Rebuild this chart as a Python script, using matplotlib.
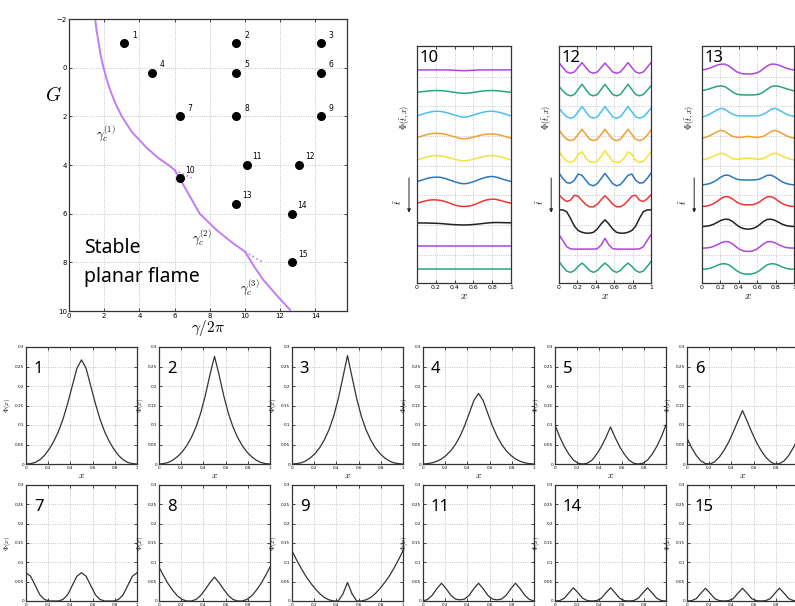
import numpy as np
import matplotlib
matplotlib.use('Agg')
import matplotlib.pyplot as plt

plt.rcParams['mathtext.fontset'] = 'cm'
plt.rcParams['font.family'] = ['DejaVu Sans']

W, H = 795, 606
VIOLET = '#c27cf5'
LABEL_FONT = 'Noto Sans'

# ---- phase diagram (gamma/2pi vs G) ----
boundary_x = [1.45, 1.49, 1.57, 1.68, 1.80, 1.96, 2.15, 2.38, 2.66, 3.00, 3.57, 4.42, 5.09,
              5.65, 6.00, 6.29, 6.80, 7.43, 8.38, 9.33, 10.00, 10.50, 11.05, 11.80, 12.57]
boundary_G = [-2.15, -2.0, -1.5, -1.05, -0.5, 0.0, 0.5, 1.0, 1.5, 2.0, 2.64, 3.3, 3.72,
              4.0, 4.2, 4.55, 5.2, 6.0, 6.67, 7.22, 7.56, 8.15, 8.73, 9.35, 9.96]
branch1_x = [6.00, 6.97]
branch1_G = [4.20, 4.53]
branch2_x = [10.00, 10.95]
branch2_G = [7.56, 7.97]

pt_labels = ['1', '2', '3', '4', '5', '6', '7', '8', '9', '10', '11', '12', '13', '14', '15']
pt_x = [3.15, 9.5, 14.3, 4.7, 9.5, 14.3, 6.3, 9.5, 14.3, 6.29, 10.1, 13.1, 9.5, 12.65, 12.7]
pt_G = [-1.0, -1.0, -1.0, 0.2, 0.2, 0.2, 2.0, 2.0, 2.0, 4.55, 4.0, 4.0, 5.6, 6.0, 8.0]

# ---- sample positions for all profiles ----
x_grid = np.arange(25) / 24

# ---- steady profiles Phi(x) for points 1-9, 11, 14, 15 ----
phi_1 = [0, 0.001, 0.004, 0.011, 0.022, 0.038, 0.058, 0.083, 0.115, 0.155, 0.200, 0.245, 0.267,
         0.245, 0.200, 0.155, 0.115, 0.083, 0.058, 0.038, 0.022, 0.011, 0.004, 0.001, 0]
phi_2 = [0, 0.001, 0.004, 0.010, 0.019, 0.031, 0.047, 0.068, 0.095, 0.130, 0.175, 0.228, 0.276,
         0.228, 0.175, 0.130, 0.095, 0.068, 0.047, 0.031, 0.019, 0.010, 0.004, 0.001, 0]
phi_3 = [0, 0.001, 0.003, 0.008, 0.016, 0.027, 0.042, 0.062, 0.088, 0.122, 0.167, 0.222, 0.278,
         0.222, 0.167, 0.122, 0.088, 0.062, 0.042, 0.027, 0.016, 0.008, 0.003, 0.001, 0]
phi_4 = [0, 0.001, 0.003, 0.007, 0.013, 0.022, 0.034, 0.050, 0.071, 0.098, 0.130, 0.163, 0.181,
         0.163, 0.130, 0.098, 0.071, 0.050, 0.034, 0.022, 0.013, 0.007, 0.003, 0.001, 0]
phi_5 = [0.100, 0.070, 0.045, 0.025, 0.010, 0.002, 0.0, 0.002, 0.010, 0.025, 0.044, 0.068, 0.095,
         0.068, 0.044, 0.025, 0.010, 0.002, 0.0, 0.002, 0.010, 0.025, 0.045, 0.070, 0.100]
phi_6 = [0.066, 0.042, 0.022, 0.008, 0.001, 0.0, 0.006, 0.018, 0.035, 0.056, 0.082, 0.110, 0.137,
         0.110, 0.082, 0.056, 0.035, 0.018, 0.006, 0.0, 0.001, 0.008, 0.022, 0.042, 0.066]
phi_7 = [0.073, 0.064, 0.040, 0.016, 0.004, 0.0, 0.0, 0.0, 0.004, 0.016, 0.040, 0.064, 0.073,
         0.064, 0.040, 0.016, 0.004, 0.0, 0.0, 0.0, 0.004, 0.016, 0.040, 0.064, 0.073]
phi_8 = [0.088, 0.065, 0.044, 0.027, 0.013, 0.004, 0.0, 0.0, 0.004, 0.014, 0.030, 0.047, 0.062,
         0.047, 0.030, 0.014, 0.004, 0.0, 0.0, 0.004, 0.013, 0.027, 0.044, 0.065, 0.088]
phi_9 = [0.130, 0.106, 0.084, 0.064, 0.047, 0.032, 0.019, 0.009, 0.003, 0.0, 0.0, 0.018, 0.048,
         0.018, 0.0, 0.0, 0.003, 0.009, 0.019, 0.032, 0.047, 0.064, 0.084, 0.106, 0.130]
phi_11 = [0.0, 0.004, 0.015, 0.032, 0.046, 0.032, 0.015, 0.005, 0.003, 0.005, 0.015, 0.032, 0.046,
          0.032, 0.015, 0.005, 0.003, 0.005, 0.015, 0.032, 0.046, 0.032, 0.015, 0.004, 0.0]
phi_14 = [0.0, 0.001, 0.007, 0.021, 0.034, 0.021, 0.007, 0.001, 0.0, 0.001, 0.007, 0.021, 0.034,
          0.021, 0.007, 0.001, 0.0, 0.001, 0.007, 0.021, 0.034, 0.021, 0.007, 0.001, 0.0]
phi_15 = [0.0, 0.001, 0.006, 0.020, 0.033, 0.020, 0.006, 0.001, 0.0, 0.001, 0.006, 0.020, 0.033,
          0.020, 0.006, 0.001, 0.0, 0.001, 0.006, 0.020, 0.033, 0.020, 0.006, 0.001, 0.0]

# ---- time series Phi(t, x) for points 10, 12, 13 (deviation, in units of curve spacing) ----
series_10 = [
    [0, 0, 0, 0, 0, 0, 0, 0, 0, -0.01, -0.02, -0.03, -0.035, -0.03, -0.02, -0.01, 0, 0, 0, 0, 0, 0, 0, 0, 0],
    [-0.01, 0.01, 0.03, 0.05, 0.065, 0.07, 0.065, 0.05, 0.03, 0.0, -0.025, -0.045, -0.05,
     -0.045, -0.025, 0.0, 0.03, 0.05, 0.065, 0.07, 0.065, 0.05, 0.03, 0.01, -0.01],
    [-0.075, -0.02, 0.035, 0.085, 0.12, 0.135, 0.125, 0.095, 0.05, -0.005, -0.06, -0.11, -0.135,
     -0.11, -0.06, -0.005, 0.05, 0.095, 0.125, 0.135, 0.12, 0.085, 0.035, -0.02, -0.075],
    [-0.05, 0.0, 0.05, 0.10, 0.13, 0.14, 0.13, 0.10, 0.055, 0.005, -0.045, -0.09, -0.11,
     -0.09, -0.05, -0.005, 0.04, 0.08, 0.10, 0.11, 0.10, 0.07, 0.02, -0.03, -0.08],
    [-0.06, -0.01, 0.04, 0.09, 0.12, 0.135, 0.125, 0.095, 0.05, 0.0, -0.05, -0.09, -0.105,
     -0.09, -0.05, 0.0, 0.05, 0.095, 0.125, 0.135, 0.12, 0.09, 0.04, -0.01, -0.06],
    [-0.04, 0.01, 0.07, 0.12, 0.15, 0.16, 0.15, 0.11, 0.05, -0.01, -0.07, -0.12, -0.14,
     -0.12, -0.07, -0.01, 0.06, 0.12, 0.17, 0.19, 0.17, 0.12, 0.06, 0.01, -0.04],
    [-0.015, 0.03, 0.08, 0.12, 0.135, 0.13, 0.11, 0.07, 0.01, -0.06, -0.12, -0.155, -0.165,
     -0.155, -0.12, -0.06, 0.02, 0.09, 0.14, 0.165, 0.16, 0.12, 0.07, 0.02, -0.015],
    [0.09, 0.09, 0.09, 0.085, 0.08, 0.075, 0.065, 0.05, 0.035, 0.02, 0.01, 0.003, 0.0,
     0.003, 0.015, 0.03, 0.05, 0.07, 0.09, 0.105, 0.11, 0.11, 0.105, 0.1, 0.1],
    [0.03, 0.03, 0.03, 0.03, 0.03, 0.03, 0.03, 0.03, 0.03, 0.03, 0.03, 0.03, 0.03,
     0.03, 0.03, 0.03, 0.03, 0.03, 0.03, 0.03, 0.03, 0.03, 0.03, 0.03, 0.03],
    [0.0, 0.0, 0.0, 0.0, 0.0, 0.0, 0.0, 0.0, 0.0, 0.0, 0.0, 0.0, 0.0,
     0.0, 0.0, 0.0, 0.0, 0.0, 0.0, 0.0, 0.0, 0.0, 0.0, 0.0, 0.0],
]
series_12 = [
    [0.33, 0.11, -0.09, -0.15, -0.09, 0.11, 0.33, 0.11, -0.09, -0.15, -0.09, 0.11, 0.31,
     0.11, -0.09, -0.15, -0.09, 0.11, 0.33, 0.11, -0.09, -0.15, -0.09, 0.11, 0.33],
    [0.25, 0.06, -0.11, -0.17, -0.11, 0.12, 0.35, 0.12, -0.11, -0.17, -0.11, 0.12, 0.35,
     0.12, -0.11, -0.17, -0.11, 0.12, 0.35, 0.12, -0.11, -0.17, -0.11, 0.08, 0.28],
    [0.27, 0.06, -0.12, -0.18, -0.12, 0.11, 0.35, 0.11, -0.12, -0.18, -0.12, 0.11, 0.35,
     0.11, -0.12, -0.18, -0.12, 0.11, 0.35, 0.11, -0.12, -0.18, -0.12, 0.06, 0.27],
    [0.29, 0.05, -0.13, -0.19, -0.13, 0.09, 0.32, 0.09, -0.13, -0.19, -0.13, 0.09, 0.32,
     0.09, -0.13, -0.19, -0.13, 0.09, 0.32, 0.09, -0.13, -0.19, -0.13, 0.05, 0.29],
    [0.30, 0.08, -0.12, -0.18, -0.10, 0.20, 0.30, 0.02, -0.15, -0.18, -0.12, 0.11, 0.35,
     0.11, -0.12, -0.18, -0.15, 0.02, 0.30, 0.20, -0.10, -0.18, -0.12, 0.08, 0.30],
    [0.34, 0.10, -0.09, -0.11, 0.02, 0.30, 0.24, 0.02, -0.18, -0.23, -0.13, 0.10, 0.33,
     0.10, -0.13, -0.23, -0.18, 0.02, 0.24, 0.30, 0.02, -0.11, -0.09, 0.10, 0.34],
    [0.36, 0.18, 0.06, 0.12, 0.34, 0.30, 0.10, -0.08, -0.18, -0.18, -0.06, 0.14, 0.32,
     0.14, -0.06, -0.18, -0.18, -0.08, 0.10, 0.30, 0.34, 0.12, 0.06, 0.18, 0.36],
    [0.68, 0.68, 0.60, 0.30, -0.05, -0.25, -0.33, -0.37, -0.37, -0.33, -0.18, 0.05, 0.23,
     0.05, -0.18, -0.33, -0.37, -0.37, -0.33, -0.25, -0.05, 0.30, 0.60, 0.68, 0.68],
    [0.56, 0.30, 0.02, -0.08, -0.09, -0.09, -0.09, -0.09, -0.09, -0.09, -0.07, 0.10, 0.40,
     0.10, -0.07, -0.09, -0.09, -0.09, -0.09, -0.09, -0.09, -0.08, 0.02, 0.30, 0.56],
    [0.35, 0.12, -0.08, -0.14, -0.06, 0.13, 0.28, 0.13, -0.06, -0.14, -0.06, 0.13, 0.28,
     0.13, -0.06, -0.14, -0.06, 0.13, 0.28, 0.13, -0.06, -0.14, -0.08, 0.12, 0.35],
]
series_13 = [
    [0.0, 0.03, 0.08, 0.15, 0.22, 0.26, 0.26, 0.18, 0.05, -0.08, -0.15, -0.18, -0.18,
     -0.18, -0.15, -0.08, 0.05, 0.18, 0.26, 0.26, 0.22, 0.15, 0.08, 0.03, 0.0],
    [0.07, 0.10, 0.15, 0.21, 0.26, 0.28, 0.24, 0.13, 0.0, -0.09, -0.12, -0.13, -0.13,
     -0.13, -0.12, -0.09, 0.0, 0.13, 0.24, 0.28, 0.26, 0.21, 0.15, 0.10, 0.05],
    [-0.13, -0.08, 0.0, 0.10, 0.20, 0.27, 0.22, 0.10, 0.0, -0.06, -0.075, -0.075, -0.075,
     -0.075, -0.075, -0.06, 0.0, 0.10, 0.22, 0.27, 0.20, 0.10, 0.0, -0.06, -0.10],
    [-0.08, -0.04, 0.03, 0.12, 0.22, 0.27, 0.22, 0.10, 0.0, -0.04, -0.05, -0.02, 0.0,
     -0.02, -0.05, -0.04, 0.0, 0.10, 0.22, 0.27, 0.22, 0.12, 0.03, -0.04, -0.08],
    [-0.06, -0.03, 0.03, 0.11, 0.19, 0.24, 0.20, 0.09, 0.0, -0.03, -0.02, 0.01, 0.015,
     0.01, -0.02, -0.03, 0.0, 0.09, 0.20, 0.24, 0.19, 0.11, 0.03, -0.03, -0.06],
    [-0.19, -0.17, -0.13, -0.06, 0.05, 0.17, 0.25, 0.24, 0.15, 0.07, 0.04, 0.03, 0.03,
     0.03, 0.04, 0.07, 0.15, 0.24, 0.25, 0.17, 0.05, -0.06, -0.13, -0.17, -0.19],
    [-0.165, -0.15, -0.11, -0.04, 0.07, 0.20, 0.28, 0.27, 0.17, 0.04, -0.05, -0.09, -0.09,
     -0.09, -0.05, 0.04, 0.17, 0.27, 0.28, 0.20, 0.07, -0.04, -0.11, -0.15, -0.165],
    [-0.07, -0.06, -0.03, 0.03, 0.12, 0.21, 0.26, 0.25, 0.15, 0.01, -0.11, -0.17, -0.19,
     -0.17, -0.11, 0.01, 0.15, 0.25, 0.26, 0.21, 0.12, 0.03, -0.03, -0.06, -0.07],
    [-0.045, -0.04, -0.02, 0.03, 0.11, 0.20, 0.25, 0.24, 0.14, 0.0, -0.12, -0.18, -0.195,
     -0.18, -0.12, 0.0, 0.14, 0.24, 0.25, 0.20, 0.11, 0.03, -0.02, -0.04, -0.045],
    [0.0, 0.01, 0.04, 0.10, 0.18, 0.24, 0.25, 0.20, 0.08, -0.06, -0.16, -0.21, -0.22,
     -0.21, -0.16, -0.06, 0.08, 0.20, 0.25, 0.24, 0.18, 0.10, 0.04, 0.01, 0.0],
]
STACK_COLORS = ['#b045e0', '#2aa57a', '#4cbff0', '#f0a030', '#f2e23c',
                '#2a78c0', '#f03535', '#222222', '#b045e0', '#2aa57a']
STACK_GRID = [1.28, 2.62, 3.96, 5.30, 6.64, 7.98, 9.32]


def px_axes(fig, left, top, width, height):
    return fig.add_axes([left / W, 1 - (top + height) / H, width / W, height / H])


def style_box(ax, tick_size, grid_ls=':'):
    ax.tick_params(direction='in', top=True, right=True, length=2, width=0.5,
                   labelsize=tick_size, pad=1.5)
    ax.grid(True, ls=grid_ls, color='#b5b5b5', lw=0.6)
    ax.set_axisbelow(True)
    for s in ax.spines.values():
        s.set_linewidth(0.9)
        s.set_color('#333333')


fig = plt.figure(figsize=(W / 100, H / 100), dpi=100)

# ---- main phase diagram ----
ax = px_axes(fig, 69, 19, 278, 292)
ax.set_xlim(0, 15.8)
ax.set_ylim(10, -2)
ax.set_xticks(range(0, 15, 2))
ax.set_yticks(range(-2, 11, 2))
style_box(ax, 5)
ax.plot(boundary_x, boundary_G, color=VIOLET, lw=1.4)
ax.plot(branch1_x, branch1_G, color=VIOLET, lw=1.2, ls=':')
ax.plot(branch2_x, branch2_G, color=VIOLET, lw=1.2, ls=':')
ax.scatter(pt_x, pt_G, s=30, color='black', zorder=3)
for lbl, x, g in zip(pt_labels, pt_x, pt_G):
    ax.annotate(lbl, (x, g), xytext=(7.5, 6), textcoords='offset points',
                fontsize=5.5, ha='center', va='center')
ax.text(2.1, 2.7, r'$\gamma_c^{(1)}$', fontsize=9, ha='center', va='center')
ax.text(7.52, 6.97, r'$\gamma_c^{(2)}$', fontsize=9, ha='center', va='center')
ax.text(10.25, 9.03, r'$\gamma_c^{(3)}$', fontsize=9, ha='center', va='center')
ax.text(0.85, 7.0, 'Stable', fontsize=14, family=LABEL_FONT, ha='left', va='top')
ax.text(0.85, 8.2, 'planar flame', fontsize=14, family=LABEL_FONT, ha='left', va='top')
fig.text(53 / W, 1 - 95 / H, r'$G$', fontsize=14, ha='center', va='center')
fig.text(208 / W, 1 - 328 / H, r'$\gamma/2\pi$', fontsize=11, ha='center', va='center')


# ---- time-evolution panels ----
def stack_panel(left, width, tag, rows):
    a = px_axes(fig, left, 46, width, 237)
    a.set_xlim(0, 1)
    a.set_ylim(0, 10.7)
    for k, (vals, col) in enumerate(zip(rows, STACK_COLORS)):
        a.plot(x_grid, np.array(vals) + 9.62 - k, color=col, lw=1.1)
    a.set_xticks([0, 0.2, 0.4, 0.6, 0.8, 1])
    a.set_xticklabels(['0', '0.2', '0.4', '0.6', '0.8', '1'])
    a.set_yticks(STACK_GRID)
    a.set_yticklabels([])
    style_box(a, 4.5)
    a.tick_params(axis='y', length=0)
    a.set_xlabel(r'$x$', fontsize=8, labelpad=1)
    a.text(0.03, 0.985, tag, transform=a.transAxes, fontsize=12, family=LABEL_FONT,
           ha='left', va='top')
    a.text(-0.13, 0.70, r'$\Phi(\tilde{t},x)$', transform=a.transAxes, fontsize=6,
           rotation=90, ha='center', va='center')
    a.text(-0.20, 0.34, r'$\tilde{t}$', transform=a.transAxes, fontsize=7,
           rotation=90, ha='center', va='center')
    a.annotate('', xy=(-0.085, 0.285), xytext=(-0.085, 0.455),
               xycoords='axes fraction', textcoords='axes fraction',
               arrowprops=dict(arrowstyle='-|>', color='#222222', lw=0.7,
                               mutation_scale=5))


stack_panel(417, 94, '10', series_10)
stack_panel(559, 92, '12', series_12)
stack_panel(702, 92, '13', series_13)

# ---- steady profile panels ----
profiles = [('1', phi_1), ('2', phi_2), ('3', phi_3), ('4', phi_4), ('5', phi_5), ('6', phi_6),
            ('7', phi_7), ('8', phi_8), ('9', phi_9), ('11', phi_11), ('14', phi_14), ('15', phi_15)]
col_left = [26, 159, 292, 423, 555, 687]
row_top = [347, 485]

for i, (tag, vals) in enumerate(profiles):
    r, c = divmod(i, 6)
    a = px_axes(fig, col_left[c], row_top[r], 111, 117 if r == 0 else 116)
    a.plot(x_grid, vals, color='#333333', lw=0.9)
    a.set_xlim(0, 1)
    a.set_ylim(0, 0.3)
    a.set_xticks([0, 0.2, 0.4, 0.6, 0.8, 1])
    a.set_xticklabels(['0', '0.2', '0.4', '0.6', '0.8', '1'])
    a.set_yticks([0, 0.05, 0.1, 0.15, 0.2, 0.25, 0.3])
    a.set_yticklabels(['0', '0.05', '0.1', '0.15', '0.2', '0.25', '0.3'])
    style_box(a, 3)
    a.set_ylabel(r'$\Phi(x)$', fontsize=5, labelpad=1)
    if r == 0:
        a.set_xlabel(r'$x$', fontsize=7, labelpad=0)
    a.text(0.07, 0.88, tag, transform=a.transAxes, fontsize=12, family=LABEL_FONT,
           ha='left', va='top')

fig.savefig('out.png', dpi=100)
